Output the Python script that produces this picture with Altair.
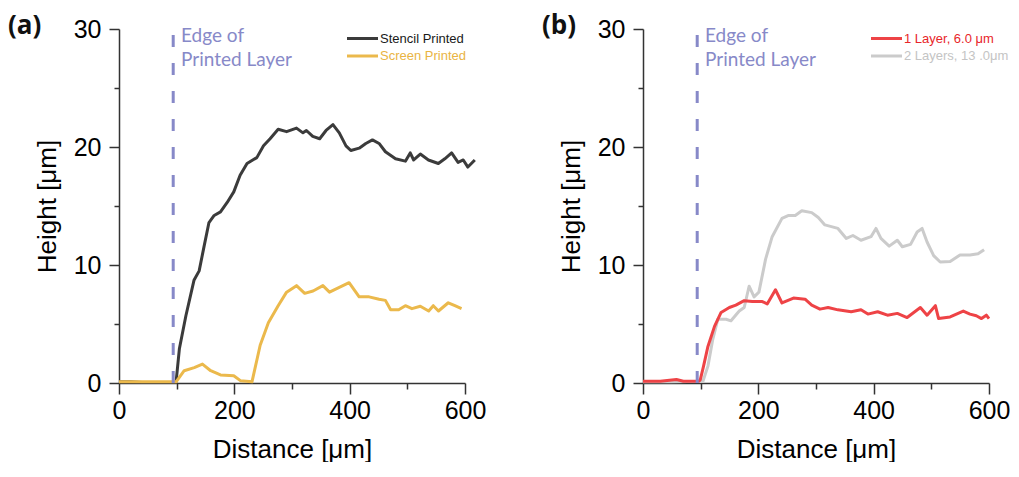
import altair as alt
import pandas as pd

# ---------------- data ----------------
a_stencil_x = [0, 20, 40, 60, 80, 97, 99, 104.7, 116, 130, 139, 147.6, 156, 165, 176, 187.6, 199, 210, 222,
               239, 250.6, 262, 276, 290.6, 307.8, 319, 325, 336, 348, 359, 371, 382, 393.6, 402, 416.5,
               428, 439.5, 451, 462, 479.5, 496.6, 505, 511, 522.5, 536.6, 553.8, 565, 576.8, 588, 597,
               605, 617]
a_stencil_y = [0.1, 0.1, 0.05, 0.05, 0.05, 0.05, 0.1, 2.9, 5.7, 8.7, 9.5, 11.6, 13.6, 14.2, 14.5, 15.3, 16.2,
               17.6, 18.6, 19.1, 20.1, 20.7, 21.5, 21.3, 21.6, 21.2, 21.4, 20.9, 20.7, 21.4, 21.9, 21.2,
               20.1, 19.7, 19.9, 20.3, 20.6, 20.3, 19.6, 19.0, 18.8, 19.5, 18.9, 19.4, 18.9, 18.6, 19.0,
               19.5, 18.7, 18.9, 18.3, 18.9]

a_screen_x = [0, 20, 40, 60, 80, 99, 113, 130.5, 144.7, 159, 176, 199, 210.5, 230.6, 244.8, 259, 276,
              290.6, 307.8, 322, 336.5, 353.6, 365, 382, 399, 416.5, 433.7, 451, 462, 471, 485, 496.6,
              508, 522.5, 537, 545, 554, 571, 582.5, 594]
a_screen_y = [0.1, 0.1, 0.1, 0.1, 0.1, 0.1, 1.04, 1.3, 1.6, 1.04, 0.68, 0.62, 0.2, 0.1, 3.2, 5.1, 6.55,
              7.7, 8.25, 7.6, 7.8, 8.25, 7.7, 8.1, 8.5, 7.3, 7.3, 7.1, 7.0, 6.2, 6.2, 6.55, 6.3, 6.5,
              6.1, 6.55, 6.1, 6.8, 6.55, 6.3]

b_one_x = [0, 30, 58, 70, 97, 99.4, 105, 112.6, 124, 135.4, 149.7, 161, 175.5, 189.7, 206.9, 215.4, 229.7,
           241, 261, 281, 292.6, 306.9, 321, 338, 361, 378, 390, 407, 424, 441, 458, 481, 492.6, 507,
           512.6, 532.6, 555.4, 567, 578, 587, 595.4, 600]
b_one_y = [0.15, 0.15, 0.3, 0.15, 0.15, 0.28, 1.43, 3.1, 4.8, 5.98, 6.4, 6.6, 6.98, 6.9, 6.9, 6.7, 7.9,
           6.78, 7.2, 7.1, 6.6, 6.26, 6.4, 6.2, 6.04, 6.2, 5.84, 6.04, 5.75, 5.9, 5.55, 6.4, 5.75, 6.55,
           5.46, 5.6, 6.1, 5.84, 5.7, 5.46, 5.75, 5.46]

b_two_x = [0, 50, 104, 112.6, 121, 129.7, 144, 152.6, 166.9, 175.5, 184, 192.6, 201, 212.6, 224, 241,
           252.6, 264, 275.4, 292.6, 304, 315.4, 338, 352.6, 364, 378, 395.4, 404, 412.6, 426.9, 441,
           449.7, 464, 475.4, 484, 492.6, 504, 515.4, 532.6, 549.7, 567, 581, 591.5]
b_two_y = [0.1, 0.1, 0.15, 1.43, 3.7, 5.4, 5.4, 5.27, 6.1, 6.4, 8.2, 7.3, 7.7, 10.5, 12.4, 13.95, 14.2,
           14.2, 14.6, 14.44, 14.02, 13.4, 13.1, 12.25, 12.5, 12.1, 12.4, 13.1, 12.25, 11.6, 12.1, 11.55,
           11.75, 12.8, 13.1, 11.95, 10.8, 10.25, 10.3, 10.85, 10.85, 10.95, 11.3]

edge_position = [94]
edge_top = [30.3]
x_ticks = [0, 100, 200, 300, 400, 500, 600]
y_ticks = [0, 5, 10, 15, 20, 25, 30]

a_labels = ["Stencil Printed", "Screen Printed"]
a_line_colors = ["#3b3b3b", "#ebb94c"]
a_text_colors = ["#1a1a1a", "#e9b443"]
b_labels = ["1 Layer, 6.0 \u03bcm", "2 Layers, 13 .0\u03bcm"]
b_line_colors = ["#ee4346", "#cbcbcb"]
b_text_colors = ["#e8262a", "#c4c4c4"]

EDGE_COLOR = "#8789c8"
AX_COLOR = "#333333"
W, H = 346, 354


def axes():
    xa = alt.Axis(values=x_ticks, grid=False, title="Distance [\u03bcm]", labelFlush=False,
                  labelExpr="datum.value % 200 == 0 ? datum.label : ''",
                  tickSize={"condition": {"test": "datum.value % 200 == 0", "value": 11}, "value": 6},
                  labelPadding=4, titlePadding=13)
    ya = alt.Axis(values=y_ticks, grid=False, title="Height [\u03bcm]", labelFlush=False,
                  labelExpr="datum.value % 10 == 0 ? datum.label : ''",
                  tickSize={"condition": {"test": "datum.value % 10 == 0", "value": 10}, "value": 5},
                  labelPadding=8, titlePadding=13)
    return xa, ya


def panel(series, colors, legend_labels, legend_line_colors, legend_text_colors, letter):
    xa, ya = axes()
    xs = alt.Scale(domain=[0, 600], nice=False)
    ys = alt.Scale(domain=[0, 30], nice=False)
    layers = []
    for (sx, sy), col in zip(series, colors):
        df = pd.DataFrame({"d": sx, "h": sy})
        layers.append(
            alt.Chart(df).mark_line(strokeWidth=3, color=col, strokeJoin="round").encode(
                x=alt.X("d:Q", scale=xs, axis=xa),
                y=alt.Y("h:Q", scale=ys, axis=ya),
            )
        )
    edge_df = pd.DataFrame({"x": edge_position, "y0": [0], "y1": edge_top})
    layers.append(
        alt.Chart(edge_df).mark_rule(strokeWidth=3, strokeDash=[12, 16], color=EDGE_COLOR).encode(
            x=alt.X("x:Q", scale=xs, axis=xa), y=alt.Y("y0:Q", scale=ys, axis=ya), y2="y1:Q"
        )
    )
    one = pd.DataFrame({"a": [0]})
    layers.append(
        alt.Chart(one).mark_text(text="Edge of\nPrinted Layer", lineBreak="\n", align="left",
                                 baseline="alphabetic", font="Lato", fontSize=19, lineHeight=24,
                                 color=EDGE_COLOR).encode(x=alt.value(62), y=alt.value(13))
    )
    for i, (lab, lc, tc) in enumerate(zip(legend_labels, legend_line_colors, legend_text_colors)):
        yy = 9.5 + i * 17.5
        layers.append(
            alt.Chart(one).mark_rule(strokeWidth=3, color=lc).encode(
                x=alt.value(228), x2=alt.value(259), y=alt.value(yy)
            )
        )
        layers.append(
            alt.Chart(one).mark_text(text=lab, align="left", baseline="middle", font="Liberation Sans",
                                     fontSize=13, color=tc).encode(x=alt.value(261), y=alt.value(yy))
        )
    layers.append(
        alt.Chart(one).mark_text(text=letter, align="left", baseline="middle", font="Open Sans",
                                 fontWeight="bold", fontSize=26, color="#111111").encode(
            x=alt.value(-111 if letter == "(a)" else -101), y=alt.value(-3)
        )
    )
    return alt.layer(*layers).properties(width=W, height=H)


pa = panel([(a_stencil_x, a_stencil_y), (a_screen_x, a_screen_y)], a_line_colors,
           a_labels, a_line_colors, a_text_colors, "(a)")
pb = panel([(b_two_x, b_two_y), (b_one_x, b_one_y)], [b_line_colors[1], b_line_colors[0]],
           b_labels, b_line_colors, b_text_colors, "(b)")

chart = alt.hconcat(pa, pb, spacing=56).properties(
    padding={"left": 0, "top": 5, "right": 0, "bottom": 0}
).configure_view(stroke=None).configure_axis(
    domainColor=AX_COLOR, tickColor=AX_COLOR, domainWidth=1.5, tickWidth=1.5,
    labelFont="Liberation Sans", labelFontSize=25, labelColor="#000000",
    titleFont="Liberation Sans", titleFontSize=26, titleFontWeight="normal", titleColor="#000000",
)

chart.save("out.html", embed_options={"renderer": "svg", "actions": False})
